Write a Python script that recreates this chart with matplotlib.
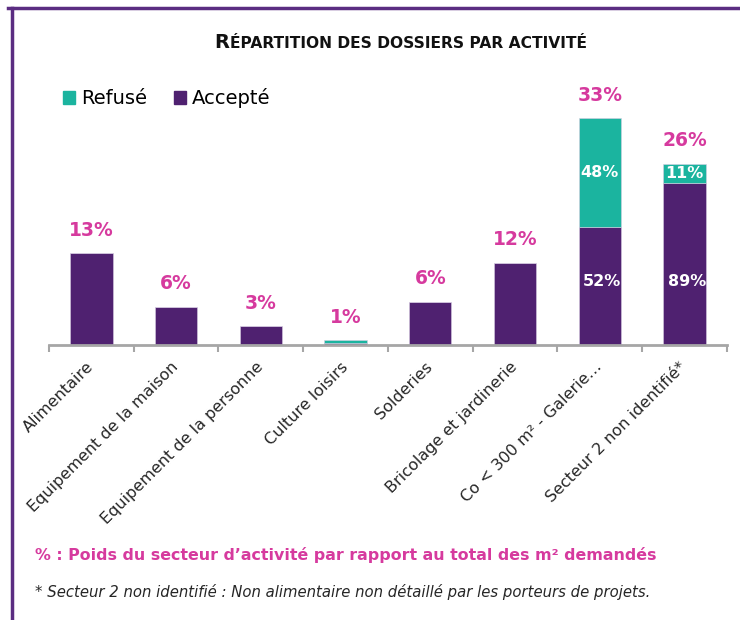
import matplotlib
matplotlib.use('Agg')
import matplotlib.pyplot as plt
from matplotlib.patches import Patch
from matplotlib.lines import Line2D

# données (hauteurs en % du total des m²)
categories = ['Alimentaire', 'Equipement de la maison', 'Equipement de la personne',
              'Culture loisirs', 'Solderies', 'Bricolage et jardinerie',
              'Co < 300 m² - Galerie…', 'Secteur 2 non identifié*']
accepte = [13.0, 5.4, 2.7, 0.35, 6.1, 11.6, 16.7, 22.8]
refuse = [0, 0, 0, 0.3, 0, 0, 15.3, 2.8]
poids = ['13%', '6%', '3%', '1%', '6%', '12%', '33%', '26%']
part_refuse = ['', '', '', '', '', '', '48%', '11%']
part_accepte = ['', '', '', '', '', '', '52%', '89%']

violet = '#4F2170'
turquoise = '#1BB49F'
magenta = '#D63A9E'
gris = '#A6A6A6'

plt.rcParams['font.family'] = ['DejaVu Sans']

fig = plt.figure(figsize=(7.4, 6.2), dpi=100)
ax = fig.add_axes([0.0662, 0.4435, 0.916, 0.40])

x = list(range(len(categories)))
ax.bar(x, accepte, width=0.5, color=violet, edgecolor='#D8CDE2', linewidth=0.4)
ax.bar(x, refuse, width=0.5, bottom=accepte, color=turquoise, edgecolor='#D8CDE2', linewidth=0.4)

for i in x:
    total = accepte[i] + refuse[i]
    ax.annotate(poids[i], (i, total), xytext=(0, 12.5), textcoords='offset points',
                ha='center', va='baseline', color=magenta, fontsize=13.5, fontweight='bold',
                annotation_clip=False)
    if part_refuse[i]:
        ax.text(i, accepte[i] + refuse[i] / 2, part_refuse[i], ha='center', va='center',
                color='white', fontsize=11.5, fontweight='bold')
    if part_accepte[i]:
        ax.text(i + 0.03, 8.9, part_accepte[i], ha='center', va='center',
                color='white', fontsize=11.5, fontweight='bold')

ax.set_xlim(-0.5, 7.5)
ax.set_ylim(0, 35)
ax.set_yticks([])
for s in ['top', 'right', 'left']:
    ax.spines[s].set_visible(False)
ax.spines['bottom'].set_color(gris)
ax.spines['bottom'].set_linewidth(2)

ax.set_xticks(x)
ax.set_xticklabels(categories, rotation=45, ha='right', va='center',
                   rotation_mode='anchor', fontsize=11.5, color='#262626')
ax.tick_params(axis='x', which='major', length=0, pad=14)
ax.set_xticks([i - 0.5 for i in range(len(categories) + 1)], minor=True)
ax.tick_params(axis='x', which='minor', length=5, width=1.5, color=gris, direction='out')

ax.legend(handles=[Patch(color=turquoise, label='Refusé'), Patch(color=violet, label='Accepté')],
          loc='upper left', bbox_to_anchor=(0.075, 0.870), bbox_transform=fig.transFigure,
          ncol=2, frameon=False, fontsize=14, handlelength=0.6, handleheight=0.6,
          handletextpad=0.3, columnspacing=1.4, borderaxespad=0)

# titre en petites capitales
r = fig.text(0.29, 0.9226, 'R', fontsize=14, fontweight='bold', family='Liberation Sans Narrow',
             va='baseline', ha='left', color='#111111')
fig.canvas.draw()
bb = r.get_window_extent()
fig.text(bb.x1 / fig.bbox.width, 0.9226, 'ÉPARTITION DES DOSSIERS PAR ACTIVITÉ', fontsize=11.2,
         fontweight='bold', family='Liberation Sans Narrow', va='baseline', ha='left', color='#111111')

fig.text(0.047, 1 - 560 / 620, '% : Poids du secteur d’activité par rapport au total des m² demandés',
         fontsize=11.4, fontweight='bold', color=magenta, va='baseline')
fig.text(0.047, 1 - 597 / 620,
         '* Secteur 2 non identifié : Non alimentaire non détaillé par les porteurs de projets.',
         fontsize=10.7, style='italic', color='#262626', va='baseline')

# cadre violet (haut et gauche)
fig.add_artist(Line2D([8 / 740, 1], [1 - 8 / 620, 1 - 8 / 620], color='#5B2D82', lw=2.5,
                      transform=fig.transFigure))
fig.add_artist(Line2D([12 / 740, 12 / 740], [0, 1 - 8 / 620], color='#5B2D82', lw=2.5,
                      transform=fig.transFigure))

fig.savefig('out.png', dpi=100)
